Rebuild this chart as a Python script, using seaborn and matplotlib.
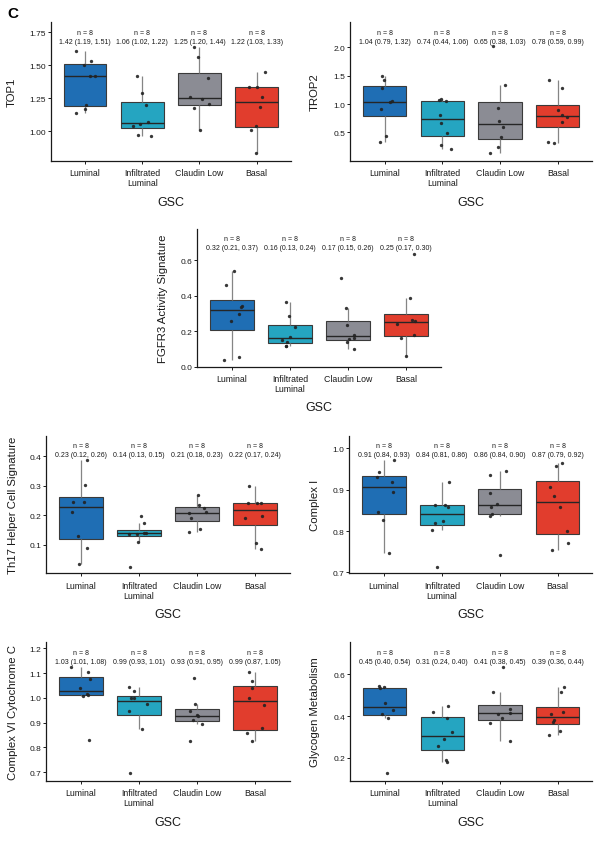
import numpy as np
import pandas as pd
import matplotlib
matplotlib.use("Agg")
import matplotlib.pyplot as plt
from matplotlib.ticker import FormatStrFormatter
import seaborn as sns

# ---------------- data ----------------
groups = ["Luminal", "Infiltrated Luminal", "Claudin Low", "Basal"]
group_labels = ["Luminal", "Infiltrated\nLuminal", "Claudin Low", "Basal"]
palette = ["#1f6eb4", "#25a5c1", "#8b8c94", "#e13d2d"]

top1_luminal = [1.61, 1.53, 1.50, 1.42, 1.42, 1.20, 1.165, 1.14]
top1_infiltrated = [1.42, 1.29, 1.195, 1.07, 1.05, 1.04, 0.967, 0.96]
top1_claudin = [1.64, 1.56, 1.40, 1.255, 1.245, 1.205, 1.175, 1.01]
top1_basal = [1.45, 1.335, 1.33, 1.255, 1.18, 1.04, 1.005, 0.835]
top1_stats = ["1.42 (1.19, 1.51)", "1.06 (1.02, 1.22)", "1.25 (1.20, 1.44)", "1.22 (1.03, 1.33)"]

trop2_luminal = [1.50, 1.43, 1.28, 1.05, 1.03, 0.91, 0.435, 0.33]
trop2_infiltrated = [1.09, 1.07, 1.06, 0.805, 0.67, 0.49, 0.28, 0.21]
trop2_claudin = [2.02, 1.33, 0.93, 0.70, 0.60, 0.42, 0.25, 0.14]
trop2_basal = [1.42, 1.28, 0.89, 0.80, 0.765, 0.68, 0.335, 0.32]
trop2_stats = ["1.04 (0.79, 1.32)", "0.74 (0.44, 1.06)", "0.65 (0.38, 1.03)", "0.78 (0.59, 0.99)"]

fgfr3_luminal = [0.54, 0.46, 0.345, 0.335, 0.30, 0.26, 0.053, 0.04]
fgfr3_infiltrated = [0.363, 0.284, 0.222, 0.167, 0.152, 0.139, 0.119, 0.115]
fgfr3_claudin = [0.502, 0.331, 0.235, 0.177, 0.164, 0.156, 0.141, 0.10]
fgfr3_basal = [0.636, 0.389, 0.265, 0.26, 0.239, 0.177, 0.164, 0.059]
fgfr3_stats = ["0.32 (0.21, 0.37)", "0.16 (0.13, 0.24)", "0.17 (0.15, 0.26)", "0.25 (0.17, 0.30)"]

th17_luminal = [0.386, 0.304, 0.246, 0.244, 0.211, 0.128, 0.089, 0.034]
th17_infiltrated = [0.197, 0.175, 0.14, 0.14, 0.138, 0.135, 0.11, 0.026]
th17_claudin = [0.27, 0.236, 0.225, 0.21, 0.206, 0.19, 0.153, 0.142]
th17_basal = [0.298, 0.243, 0.242, 0.241, 0.198, 0.189, 0.106, 0.084]
th17_stats = ["0.23 (0.12, 0.26)", "0.14 (0.13, 0.15)", "0.21 (0.18, 0.23)", "0.22 (0.17, 0.24)"]

cx1_luminal = [0.971, 0.943, 0.930, 0.919, 0.895, 0.845, 0.826, 0.746]
cx1_infiltrated = [0.919, 0.864, 0.863, 0.859, 0.824, 0.819, 0.802, 0.714]
cx1_claudin = [0.946, 0.934, 0.891, 0.866, 0.859, 0.842, 0.836, 0.742]
cx1_basal = [0.965, 0.957, 0.907, 0.884, 0.858, 0.80, 0.77, 0.755]
cx1_stats = ["0.91 (0.84, 0.93)", "0.84 (0.81, 0.86)", "0.86 (0.84, 0.90)", "0.87 (0.79, 0.92)"]

cx6_luminal = [1.125, 1.103, 1.076, 1.04, 1.015, 1.013, 1.007, 0.829]
cx6_infiltrated = [1.042, 1.026, 1.0, 0.998, 0.974, 0.948, 0.874, 0.695]
cx6_claudin = [1.081, 0.976, 0.947, 0.930, 0.925, 0.912, 0.895, 0.824]
cx6_basal = [1.106, 1.069, 1.038, 1.001, 0.97, 0.877, 0.856, 0.824]
cx6_stats = ["1.03 (1.01, 1.08)", "0.99 (0.93, 1.01)", "0.93 (0.91, 0.95)", "0.99 (0.87, 1.05)"]

gly_luminal = [0.544, 0.539, 0.536, 0.461, 0.430, 0.41, 0.389, 0.125]
gly_infiltrated = [0.446, 0.419, 0.39, 0.323, 0.29, 0.256, 0.187, 0.178]
gly_claudin = [0.634, 0.515, 0.432, 0.417, 0.411, 0.389, 0.365, 0.28]
gly_basal = [0.539, 0.514, 0.419, 0.408, 0.379, 0.374, 0.33, 0.31]
gly_stats = ["0.45 (0.40, 0.54)", "0.31 (0.24, 0.40)", "0.41 (0.38, 0.45)", "0.39 (0.36, 0.44)"]

# ---------------- style ----------------
sns.set_theme(style="ticks")
plt.rcParams["font.family"] = ["Liberation Sans", "DejaVu Sans"]
TXT = "#1a1a1a"

W, H = 600, 845
fig = plt.figure(figsize=(6, 8.45), dpi=100)


def rect(left, right, top, bottom):
    return [left / W, 1 - bottom / H, (right - left) / W, (bottom - top) / H]


panels = [
    dict(series=[top1_luminal, top1_infiltrated, top1_claudin, top1_basal], stats=top1_stats,
         ylabel="TOP1", rect=rect(50.7, 291, 23, 161.7), ylim=(0.775, 1.826),
         ticks=[1.00, 1.25, 1.50, 1.75], fmt="%.2f", ann=(0.926, 0.858), ylx=-0.14),
    dict(series=[trop2_luminal, trop2_infiltrated, trop2_claudin, trop2_basal], stats=trop2_stats,
         ylabel="TROP2", rect=rect(350, 592.4, 23, 161.7), ylim=(0.0, 2.45),
         ticks=[0.5, 1.0, 1.5, 2.0], fmt="%.1f", ann=(0.926, 0.858), ylx=-0.125),
    dict(series=[fgfr3_luminal, fgfr3_infiltrated, fgfr3_claudin, fgfr3_basal], stats=fgfr3_stats,
         ylabel="FGFR3 Activity Signature", rect=rect(197, 441, 230, 367.7), ylim=(0.0, 0.777),
         ticks=[0.0, 0.2, 0.4, 0.6], fmt="%.1f", ann=(0.932, 0.867), ylx=-0.12),
    dict(series=[th17_luminal, th17_infiltrated, th17_claudin, th17_basal], stats=th17_stats,
         ylabel="Th17 Helper Cell Signature", rect=rect(46, 289.8, 436.7, 574.3), ylim=(0.003, 0.47),
         ticks=[0.1, 0.2, 0.3, 0.4], fmt="%.1f", ann=(0.932, 0.867), ylx=-0.115),
    dict(series=[cx1_luminal, cx1_infiltrated, cx1_claudin, cx1_basal], stats=cx1_stats,
         ylabel="Complex I", rect=rect(349.3, 592.4, 436.7, 574.3), ylim=(0.698, 1.03),
         ticks=[0.7, 0.8, 0.9, 1.0], fmt="%.1f", ann=(0.932, 0.867), ylx=-0.12),
    dict(series=[cx6_luminal, cx6_infiltrated, cx6_claudin, cx6_basal], stats=cx6_stats,
         ylabel="Complex VI Cytochrome C", rect=rect(46, 289.8, 643.3, 781.7), ylim=(0.665, 1.224),
         ticks=[0.7, 0.8, 0.9, 1.0, 1.1, 1.2], fmt="%.1f", ann=(0.923, 0.863), ylx=-0.113),
    dict(series=[gly_luminal, gly_infiltrated, gly_claudin, gly_basal], stats=gly_stats,
         ylabel="Glycogen Metabolism", rect=rect(350, 592.4, 643.3, 781.7), ylim=(0.09, 0.754),
         ticks=[0.2, 0.4, 0.6], fmt="%.1f", ann=(0.923, 0.863), ylx=-0.124),
]

np.random.seed(7)

for p in panels:
    ax = fig.add_axes(p["rect"])
    df = pd.DataFrame({
        "group": np.repeat(groups, [len(s) for s in p["series"]]),
        "value": np.concatenate([np.asarray(s, float) for s in p["series"]]),
    })
    sns.boxplot(data=df, x="group", y="value", hue="group", order=groups, hue_order=groups,
                palette=palette, saturation=1, legend=False, width=0.75,
                showfliers=False, showcaps=False, linewidth=0.8, linecolor="#3a3a3a",
                whiskerprops=dict(color="#858585", linewidth=0.9),
                medianprops=dict(color="#262626", linewidth=1.0), ax=ax)
    sns.stripplot(data=df, x="group", y="value", order=groups, color="#222222",
                  size=2.4, jitter=0.18, linewidth=0, alpha=0.9, ax=ax, zorder=5)

    ax.set_xlim(-0.6, 3.6)
    ax.set_ylim(*p["ylim"])
    ax.set_yticks(p["ticks"])
    ax.yaxis.set_major_formatter(FormatStrFormatter(p["fmt"]))
    ax.set_xticks(range(len(groups)))
    ax.set_xticklabels(group_labels, fontsize=6.3, color=TXT, linespacing=1.15)
    ax.tick_params(axis="y", labelsize=6, labelcolor=TXT, length=2, width=0.7, pad=1.5, color=TXT)
    ax.tick_params(axis="x", length=2, width=0.7, pad=3.5, color=TXT)
    sns.despine(ax=ax)
    for s in ("left", "bottom"):
        ax.spines[s].set_color(TXT)
        ax.spines[s].set_linewidth(0.9)

    ax.set_ylabel(p["ylabel"], fontsize=8.2, color=TXT)
    ax.yaxis.set_label_coords(p["ylx"], 0.5)
    ax.set_xlabel("GSC", fontsize=9, color=TXT)
    ax.xaxis.set_label_coords(0.5, -0.295)
    ax.xaxis.label.set_va("center")

    tr = ax.get_xaxis_transform()
    for i, (s, st) in enumerate(zip(p["series"], p["stats"])):
        ax.text(i, p["ann"][0], f"n = {len(s)}", transform=tr, ha="center", va="center",
                fontsize=5.0, color=TXT)
        ax.text(i, p["ann"][1], st, transform=tr, ha="center", va="center",
                fontsize=5.0, color=TXT)

fig.text(7 / W, 1 - 7 / H, "C", fontsize=11, fontweight="bold", ha="left", va="top", color="#000000")

fig.savefig("out.png", dpi=100)
